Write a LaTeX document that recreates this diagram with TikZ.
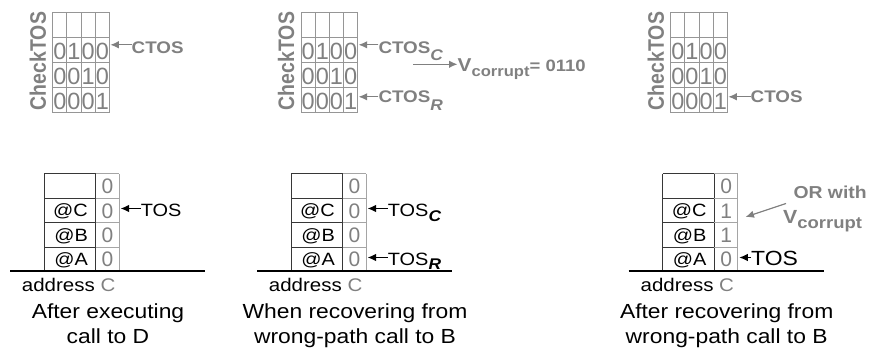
\documentclass[tikz,border=0pt]{standalone}
\usepackage{fontspec}
\usepackage{graphicx}
\setmainfont{Liberation Sans}[FakeStretch=1.12]
\newfontfamily\plainsf{Liberation Sans}
\usetikzlibrary{arrows.meta}
\newcommand\fsz[1]{\fontsize{#1}{#1}\selectfont}
\definecolor{txtgray}{RGB}{128,128,128}
\definecolor{gridgray}{RGB}{150,150,150}
\definecolor{cellgray}{RGB}{165,165,165}
\definecolor{darkline}{RGB}{55,55,55}

\begin{document}
\begin{tikzpicture}[x=1pt,y=-1pt,
  gridline/.style={draw=gridgray,line width=0.9pt},
  stackdark/.style={draw=darkline,line width=1pt},
  stacklight/.style={draw=cellgray,line width=1pt},
  groundline/.style={draw=black,line width=1.5pt},
  cklabel/.style={inner sep=0,text=txtgray,font=\plainsf\bfseries\fsz{19.5}},
  bit/.style={inner sep=0,text=txtgray,font=\plainsf\fsz{23.5}},
  sbit/.style={inner sep=0,text=txtgray,font=\plainsf\fsz{21}},
  gtag/.style={inner sep=0,text=txtgray,font=\bfseries\fsz{16.8},anchor=base west},
  lbl/.style={inner sep=0,font=\fsz{17.8}},
  tostag/.style={inner sep=0,font=\fsz{17.8},anchor=base west},
  addr/.style={inner sep=0,font=\fsz{18.3},anchor=base west},
  caption/.style={inner sep=0,font=\fsz{20.4},anchor=base},
  arr/.style={-{Latex[length=8.5pt,width=7.5pt]},line width=1.2pt},
  garr/.style={arr,draw=txtgray,fill=txtgray}]
\useasboundingbox (0,0) rectangle (871,352);

% ---------- CheckTOS tables ----------
\foreach \id/\gx in {a/52.7,b/301,c/670.7}{
  \foreach \k in {0,...,4}
    \draw[gridline] ({\gx+\k*14.2},12.3) -- ({\gx+\k*14.2},112.7);
  \foreach \r in {0,...,4}
    \draw[gridline] (\gx,{12.3+\r*25.1}) -- ({\gx+56.8},{12.3+\r*25.1});
  \node[cklabel] (ck\id) at ({\gx-14.8},61)
    {\scalebox{1.15}[1]{\rotatebox{90}{CheckTOS}}};
  \foreach \b [count=\c] in {0,1,0,0}
    \node[bit] (\id rB\c) at ({\gx+(\c-0.5)*14.2},51) {\b};
  \foreach \b [count=\c] in {0,0,1,0}
    \node[bit] (\id rC\c) at ({\gx+(\c-0.5)*14.2},76.1) {\b};
  \foreach \b [count=\c] in {0,0,0,1}
    \node[bit] (\id rD\c) at ({\gx+(\c-0.5)*14.2},101.2) {\b};
  \coordinate (\id ptop) at ({\gx+57.6},44.8);
  \coordinate (\id pbot) at ({\gx+57.6},96.8);
}

% pointers into the tables
\node[gtag] (ctosA) at (131.5,53.3) {CTOS};
\draw[garr] (ctosA.west |- aptop) -- (aptop);

\node[gtag] (ctosC) at (378.3,53.3) {CTOS\raisebox{-7.4pt}{\fsz{15.5}\itshape C}};
\draw[garr] (ctosC.west |- bptop) -- (bptop);
\node[gtag] (ctosR) at (378.3,102.7) {CTOS\raisebox{-7.4pt}{\fsz{15.5}\itshape R}};
\draw[garr] (ctosR.west |- bpbot) -- (bpbot);

\coordinate (vtail) at (413.3,64.3);
\node[gtag,font=\bfseries\fsz{18.6}] (vcor) at (457.5,71.7)
  {V\raisebox{-5pt}{\fsz{14.8}corrupt}{\fsz{16.5}= 0110}};
\draw[garr] (vtail) -- (vcor.west |- vtail);

\node[gtag] (ctosE) at (750.5,102.7) {CTOS};
\draw[garr] (ctosE.west |- cpbot) -- (cpbot);

% ---------- return address stacks ----------
\foreach \id/\L in {a/44,b/291,c/662.7}{
  \draw[stackdark] (\L,174) -- (\L,271);
  \draw[stackdark] ({\L+51.7},174) -- ({\L+51.7},271);
  \foreach \yy in {174,198.3,223,247.7}{
    \draw[stackdark] (\L,\yy) -- ({\L+51.7},\yy);
    \draw[stacklight] ({\L+51.7},\yy) -- ({\L+75},\yy);
  }
  \draw[stacklight] ({\L+75},174) -- ({\L+75},271);
  \draw[groundline] ({\L-34},271) -- ({\L+161},271);
  \node[lbl,anchor=base east] (\id atC) at ({\L+44},217) {@C};
  \node[lbl,anchor=base east] (\id atB) at ({\L+44},241.6) {@B};
  \node[lbl,anchor=base east] (\id atA) at ({\L+44},265.6) {@A};
  \node[addr] (\id addr) at ({\L-22.3},291.5) {address \textcolor{txtgray}{C}};
  \coordinate (\id s2) at ({\L+76.6},208.5);
  \coordinate (\id s3) at ({\L+76.6},233.5);
  \coordinate (\id s4) at ({\L+76.6},257.5);
}

% counter bits of each stack entry
\foreach \id/\L/\ba/\bb/\bc/\bd in {a/44/0/0/0/0,b/291/0/0/0/0,c/662.7/0/1/1/0}{
  \node[sbit] (\id k1) at ({\L+63.4},186.5) {\ba};
  \node[sbit] (\id k2) at ({\L+63.4},211) {\bb};
  \node[sbit] (\id k3) at ({\L+63.4},235.5) {\bc};
  \node[sbit] (\id k4) at ({\L+63.4},259.7) {\bd};
}

% top-of-stack pointers
\node[tostag] (tosA) at (140.7,217) {TOS};
\draw[arr] (tosA.west |- as2) -- (as2);

\node[tostag] (tosC) at (387.7,217) {TOS\raisebox{-4.3pt}{\fsz{15.5}\bfseries\itshape C}};
\draw[arr] (tosC.west |- bs2) -- (bs2);
\node[tostag] (tosR) at (387.7,265.6) {TOS\raisebox{-4.3pt}{\fsz{15.5}\bfseries\itshape R}};
\draw[arr] (tosR.west |- bs4) -- (bs4);

\node[tostag,font=\fsz{20.5}] (tosE) at (751,265.6) {TOS};
\draw[arr] (tosE.west |- cs4) -- (cs4);

% OR with V_corrupt
\node[gtag,font=\bfseries\fsz{17.3}] (orw) at (793.3,198.3) {OR with};
\node[gtag,font=\bfseries\fsz{19}] (orv) at (783,223.3)
  {V\raisebox{-5pt}{\fsz{16.5}corrupt}};
\coordinate (ortail) at (786,203.5);
\coordinate (orhead) at (745.5,217);
\draw[garr] (ortail) -- (orhead);

% captions
\node[caption] (capA1) at (108,318.5) {After executing};
\node[caption] (capA2) at (108,343.5) {call to D};
\node[caption] (capB1) at (355,318.5) {When recovering from};
\node[caption] (capB2) at (355,343.5) {wrong-path call to B};
\node[caption] (capC1) at (726.7,318.5) {After recovering from};
\node[caption] (capC2) at (726.7,343.5) {wrong-path call to B};
\end{tikzpicture}
\end{document}
